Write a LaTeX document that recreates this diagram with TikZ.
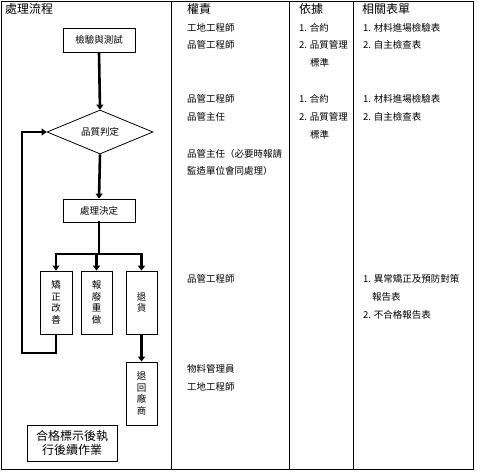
\documentclass[tikz,border=0pt]{standalone}
\usepackage{fontspec}
\setmainfont{Noto Sans CJK TC}
\usetikzlibrary{arrows.meta,shapes.geometric}
\begin{document}
\begin{tikzpicture}[x=1pt,y=-1pt,
 box/.style={draw, line width=0.8pt, inner sep=0pt, align=center, font=\fontsize{9.5}{11.5}\selectfont},
 flow/.style={line width=2.6pt, -{Triangle[width=7pt,length=5pt]}},
 flowline/.style={line width=2.6pt, line cap=rect},
 txt/.style={anchor=west, inner sep=0pt, font=\fontsize{9.5}{11}\selectfont},
 head/.style={anchor=west, inner sep=0pt, font=\fontsize{12}{14}\selectfont},
 frame/.style={line width=1pt}]
\useasboundingbox (0,0) rectangle (497,472);
% frame and columns
\draw[frame] (1,1) rectangle (473,469);
\draw[frame] (171,1) -- (171,469);
\draw[frame] (289,1) -- (289,469);
\draw[frame] (353,1) -- (353,469);
% headers
\node[head] (h1) at (5,9) {處理流程};
\node[head] (h2) at (187,9) {權責};
\node[head] (h3) at (299,9) {依據};
\node[head] (h4) at (362,9) {相關表單};
% flow nodes
\node[box, minimum width=72pt, minimum height=24pt] (test) at (99,40) {檢驗與測試};
\node[box, shape=diamond, aspect=2.4, minimum width=106pt, minimum height=44pt] (judge) at (100,132) {品質判定};
\node[box, minimum width=72pt, minimum height=23pt] (decide) at (99,210.5) {處理決定};
\node[box, minimum width=32pt, minimum height=63pt] (b1) at (56,302.5) {矯\\正\\改\\善};
\node[box, minimum width=31pt, minimum height=63pt] (b2) at (96.5,302.5) {報\\廢\\重\\做};
\node[box, minimum width=31pt, minimum height=63pt] (b3) at (141.5,302.5) {退\\貨};
\node[box, minimum width=31pt, minimum height=63pt] (b4) at (141.5,393.5) {退\\回\\廠\\商};
\node[box, minimum width=90pt, minimum height=36pt, font=\fontsize{12}{14}\selectfont] (ok) at (72,443) {合格標示後執\\行後續作業};
% connectors
\coordinate (split) at (99,254);
\coordinate (loopA) at (22,353);
\draw[flow] (test.south) -- (judge.north);
\draw[flow] (judge.south) -- (decide.north);
\draw[flowline] (decide.south) -- (split);
\draw[flowline] (b1.north |- split) -- (b3.north |- split);
\draw[flow] (b1.north |- split) -- (b1.north);
\draw[flow] (b2.north |- split) -- (b2.north);
\draw[flow] (b3.north |- split) -- (b3.north);
\draw[flow] (b1.south) |- (loopA) |- (judge.west);
\draw[flow] (b3.south) -- (b4.north);
% authority column
\node[txt] (r1) at (187,28) {工地工程師};
\node[txt] (r2) at (187,45) {品管工程師};
\node[txt] (r3) at (187,99) {品管工程師};
\node[txt] (r4) at (187,117) {品管主任};
\node[txt] (r5) at (187,154) {品管主任（必要時報請};
\node[txt] (r6) at (187,171) {監造單位會同處理）};
\node[txt] (r7) at (187,279) {品管工程師};
\node[txt] (r8) at (187,369) {物料管理員};
\node[txt] (r9) at (187,387) {工地工程師};
% basis column
\node[txt] (s1) at (299,28) {1. 合約};
\node[txt] (s2) at (299,45) {2. 品質管理};
\node[txt] (s3) at (310,63) {標準};
\node[txt] (s4) at (299,99) {1. 合約};
\node[txt] (s5) at (299,117) {2. 品質管理};
\node[txt] (s6) at (310,135) {標準};
% forms column
\node[txt] (f1) at (363,28) {1. 材料進場檢驗表};
\node[txt] (f2) at (363,45) {2. 自主檢查表};
\node[txt] (f3) at (363,99) {1. 材料進場檢驗表};
\node[txt] (f4) at (363,117) {2. 自主檢查表};
\node[txt] (f5) at (363,279) {1. 異常矯正及預防對策};
\node[txt] (f6) at (372,297) {報告表};
\node[txt] (f7) at (363,315) {2. 不合格報告表};
\end{tikzpicture}
\end{document}
